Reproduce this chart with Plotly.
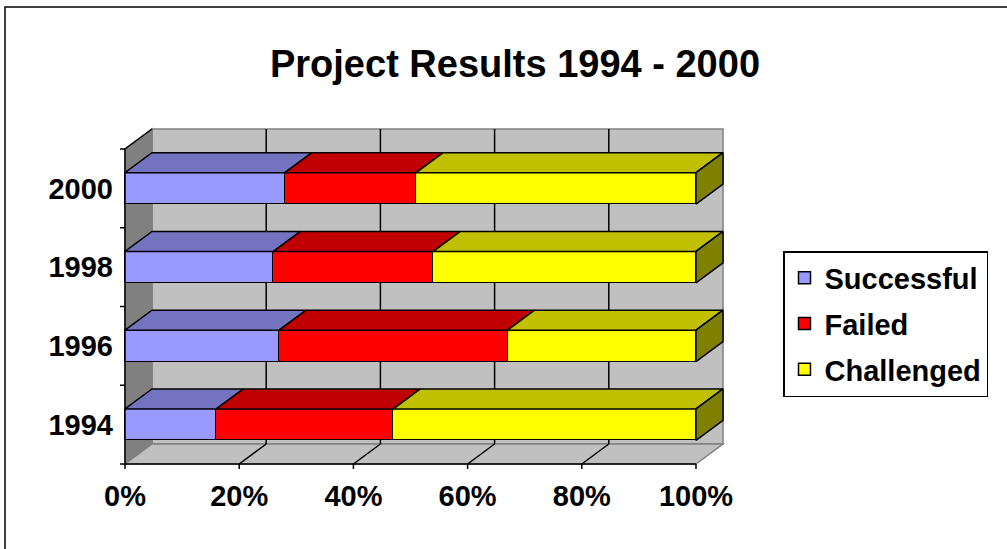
import plotly.graph_objects as go

# ---- data ----
years = ["1994", "1996", "1998", "2000"]
successful = [16, 27, 26, 28]
failed = [31, 40, 28, 23]
challenged = [53, 33, 46, 49]
x_ticks = [0, 20, 40, 60, 80, 100]
x_tick_labels = ["0%", "20%", "40%", "60%", "80%", "100%"]
series_names = ["Successful", "Failed", "Challenged"]

# ---- styles ----
front_colors = ["#9999FF", "#FF0000", "#FFFF00"]
top_colors = ["#7373C0", "#C00000", "#C0C000"]
side_color = "#808000"
FONT = "Liberation Sans, Arial, sans-serif"

W, H = 1007, 549
PX_X = 5.71      # pixels per percent
PX_Y = 78.75     # pixels per category
L_PX, R_PX, T_PX, B_PX = 115, 726, 126, 474   # plot area in pixels
AX0_PX, AXB_PX = 125, 464                     # pixel of 0% / front floor edge
DX = 27 / PX_X   # depth offset (x units)
DY = 20 / PX_Y   # depth offset (y units)
BW = 0.4
n = len(years)
cat = list(range(n))
y_lo, y_hi = -0.5, n - 0.5
x_max = x_ticks[-1]
xr = [(L_PX - AX0_PX) / PX_X, (R_PX - AX0_PX) / PX_X]
yr = [y_lo - (B_PX - AXB_PX) / PX_Y, y_lo + (AXB_PX - T_PX) / PX_Y]
TLX = 5 / PX_X
TLY = 5 / PX_Y

values = [successful, failed, challenged]

fig = go.Figure()

# front faces
for name, vals, fc in zip(series_names, values, front_colors):
    fig.add_trace(go.Bar(
        y=cat, x=vals, orientation="h", width=BW, name=name, legendgroup=name,
        marker=dict(color=fc, line=dict(color="black", width=1.5)),
        hoverinfo="skip"))

# top faces
bases = [0] * n
for vals, tc in zip(values, top_colors):
    for i in range(n):
        x0 = bases[i]
        x1 = x0 + vals[i]
        yt = cat[i] + BW / 2
        fig.add_trace(go.Scatter(
            x=[x0, x1, x1 + DX, x0 + DX, x0],
            y=[yt, yt, yt + DY, yt + DY, yt],
            fill="toself", fillcolor=tc, mode="lines",
            line=dict(color="black", width=1.5),
            showlegend=False, hoverinfo="skip"))
        bases[i] = x1

# right side faces
for i in range(n):
    xe = bases[i]
    yb, yt = cat[i] - BW / 2, cat[i] + BW / 2
    fig.add_trace(go.Scatter(
        x=[xe, xe, xe + DX, xe + DX, xe],
        y=[yb, yt, yt + DY, yb + DY, yb],
        fill="toself", fillcolor=side_color, mode="lines",
        line=dict(color="black", width=1.5),
        showlegend=False, hoverinfo="skip"))

# axis lines and ticks
line_style = dict(color="black", width=1.5)
fig.add_trace(go.Scatter(x=[0, x_max], y=[y_lo, y_lo], mode="lines",
                         line=line_style, showlegend=False, hoverinfo="skip"))
fig.add_trace(go.Scatter(x=[0, 0], y=[y_lo, y_hi], mode="lines",
                         line=line_style, showlegend=False, hoverinfo="skip"))
tx, ty = [], []
for t in x_ticks:
    tx += [t, t, None]
    ty += [y_lo, y_lo - TLY, None]
for k in range(n + 1):
    b = y_lo + k
    tx += [0, -TLX, None]
    ty += [b, b, None]
fig.add_trace(go.Scatter(x=tx, y=ty, mode="lines", line=line_style,
                         showlegend=False, hoverinfo="skip"))

# background walls (shapes below traces)
shapes = []
shapes.append(dict(type="rect", xref="x", yref="y", layer="below",
                   x0=DX, x1=x_max + DX, y0=y_lo + DY, y1=y_hi + DY,
                   fillcolor="#C0C0C0", line=dict(color="#808080", width=1.5)))
shapes.append(dict(type="path", xref="x", yref="y", layer="below",
                   path=f"M0,{y_lo} L0,{y_hi} L{DX},{y_hi+DY} L{DX},{y_lo+DY} Z",
                   fillcolor="#808080", line=dict(color="#808080", width=1.5)))
shapes.append(dict(type="path", xref="x", yref="y", layer="below",
                   path=f"M0,{y_lo} L{x_max},{y_lo} L{x_max+DX},{y_lo+DY} L{DX},{y_lo+DY} Z",
                   fillcolor="#C0C0C0", line=dict(color="#808080", width=1.5)))
for t in x_ticks[1:-1]:
    shapes.append(dict(type="line", xref="x", yref="y", layer="below",
                       x0=t + DX, x1=t + DX, y0=y_lo + DY, y1=y_hi + DY,
                       line=dict(color="black", width=1.5)))
    shapes.append(dict(type="line", xref="x", yref="y", layer="below",
                       x0=t, x1=t + DX, y0=y_lo, y1=y_lo + DY,
                       line=dict(color="black", width=1.5)))
shapes.append(dict(type="line", xref="x", yref="y", layer="below",
                   x0=0, x1=DX, y0=y_hi, y1=y_hi + DY,
                   line=dict(color="black", width=1.5)))

# outer chart border (pixel -> paper)
pw, ph = R_PX - L_PX, B_PX - T_PX
def px2paper_x(p):
    return (p - L_PX) / pw
def px2paper_y(p):
    return 1 - (p - T_PX) / ph
shapes.append(dict(type="rect", xref="paper", yref="paper",
                   x0=px2paper_x(5), x1=px2paper_x(1015),
                   y0=px2paper_y(560), y1=px2paper_y(7),
                   line=dict(color="black", width=1.5), fillcolor="rgba(0,0,0,0)"))

tick_font = dict(family=FONT, size=29, color="black", weight="bold")

fig.update_layout(
    width=W, height=H,
    margin=dict(l=L_PX, r=W - R_PX, t=T_PX, b=H - B_PX, pad=0),
    paper_bgcolor="white", plot_bgcolor="white",
    barmode="stack", bargap=0,
    hovermode=False,
    shapes=shapes,
    title=dict(text="Project Results 1994 - 2000",
               font=dict(family=FONT, size=38, color="black", weight="bold"),
               x=px2paper_x(515), xref="paper", xanchor="center",
               y=1 - 64 / H, yanchor="middle"),
    xaxis=dict(range=xr, showgrid=False, zeroline=False, showline=False,
               tickvals=x_ticks, ticktext=x_tick_labels, ticks="",
               tickfont=tick_font, ticklabelstandoff=2, fixedrange=True),
    yaxis=dict(range=yr, showgrid=False, zeroline=False, showline=False,
               tickvals=cat, ticktext=years, ticks="",
               tickfont=tick_font, ticklabelstandoff=1, fixedrange=True),
    legend=dict(x=px2paper_x(783), y=px2paper_y(251), xanchor="left", yanchor="top",
                bgcolor="white", bordercolor="black", borderwidth=1.5,
                font=dict(family=FONT, size=29, color="black", weight="bold"),
                traceorder="grouped", tracegroupgap=5, itemclick=False,
                itemdoubleclick=False),
    showlegend=True,
)

fig.write_html("out.html", config={"displayModeBar": False},
               post_script="document.body.style.margin='0';document.body.style.overflow='hidden';")
